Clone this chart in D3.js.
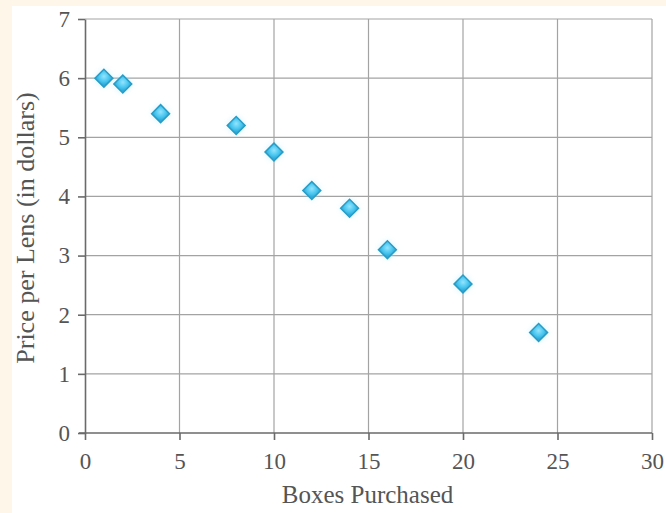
<!DOCTYPE html>
<html>
<head>
<meta charset="utf-8">
<script src="https://cdn.jsdelivr.net/npm/d3@7"></script>
<style>
  html, body { margin: 0; padding: 0; background: #fdf6e9; }
  svg { display: block; }
</style>
</head>
<body>
<svg id="chart" width="666" height="513"></svg>
<script>
// Price per lens by number of boxes purchased
const boxes  = [1, 2, 4, 8, 10, 12, 14, 16, 20, 24];
const prices = [6.0, 5.9, 5.4, 5.2, 4.75, 4.1, 3.8, 3.1, 2.52, 1.7];
const xTicks = [0, 5, 10, 15, 20, 25, 30];
const yTicks = [0, 1, 2, 3, 4, 5, 6, 7];

const W = 666, H = 513;
const margin = { left: 85, right: 14, top: 19, bottom: 80 };
const serif = "'Liberation Serif', 'DejaVu Serif', serif";

const svg = d3.select("#chart");

// white panel over the cream page
svg.append("rect")
  .attr("x", 12).attr("y", 6)
  .attr("width", W - 12).attr("height", H - 6)
  .attr("fill", "#ffffff");

const x = d3.scaleLinear().domain([0, 30]).range([margin.left, W - margin.right]);
const y = d3.scaleLinear().domain([0, 7]).range([H - margin.bottom, margin.top]);

const defs = svg.append("defs");
const grad = defs.append("radialGradient").attr("id", "gem")
  .attr("cx", "40%").attr("cy", "40%").attr("r", "65%");
grad.append("stop").attr("offset", "0%").attr("stop-color", "#95e4fc");
grad.append("stop").attr("offset", "60%").attr("stop-color", "#4cc8f1");
grad.append("stop").attr("offset", "100%").attr("stop-color", "#2eaadb");
defs.append("filter").attr("id", "glow")
  .attr("x", "-100%").attr("y", "-100%").attr("width", "300%").attr("height", "300%")
  .append("feGaussianBlur").attr("stdDeviation", 3);

// grid
const grid = svg.append("g");
grid.selectAll("line.v").data(xTicks.slice(1)).join("line")
  .attr("x1", d => x(d)).attr("x2", d => x(d))
  .attr("y1", y(0)).attr("y2", y(7))
  .attr("stroke", "#a3a3a3").attr("stroke-width", 1.2);
grid.selectAll("line.h").data(yTicks.slice(1)).join("line")
  .attr("x1", x(0)).attr("x2", x(30))
  .attr("y1", d => y(d)).attr("y2", d => y(d))
  .attr("stroke", "#a3a3a3").attr("stroke-width", 1.2);

// axes
const xAxis = svg.append("g")
  .attr("transform", `translate(0,${y(0)})`)
  .call(d3.axisBottom(x).tickValues(xTicks).tickFormat(d3.format("d"))
    .tickSize(7).tickSizeOuter(0).tickPadding(13));
const yAxis = svg.append("g")
  .attr("transform", `translate(${x(0)},0)`)
  .call(d3.axisLeft(y).tickValues(yTicks).tickFormat(d3.format("d"))
    .tickSize(7).tickSizeOuter(0).tickPadding(8));

[xAxis, yAxis].forEach(g => {
  g.select(".domain").attr("stroke", "#6a6a6a").attr("stroke-width", 1.6);
  g.selectAll(".tick line").attr("stroke", "#6a6a6a").attr("stroke-width", 1.6);
  g.selectAll(".tick text")
    .attr("fill", "#555")
    .style("font-family", serif)
    .style("font-size", "23px");
});
// x-axis line extends a little left of the y-axis
xAxis.select(".domain").attr("d", `M${x(0) - 6},0H${x(30)}`);

// axis titles
svg.append("text")
  .attr("x", x(15) - 1).attr("y", 503)
  .attr("text-anchor", "middle")
  .attr("fill", "#555")
  .style("font-family", serif)
  .style("font-size", "25px")
  .text("Boxes Purchased");
svg.append("text")
  .attr("transform", `translate(34,${y(3.5) + 2}) rotate(-90)`)
  .attr("text-anchor", "middle")
  .attr("fill", "#555")
  .style("font-family", serif)
  .style("font-size", "26px")
  .text("Price per Lens (in dollars)");

// markers
const pts = boxes.map((b, i) => ({ b, p: prices[i] }));
const diamond = d3.symbol().type(d3.symbolSquare).size(160);
const marks = svg.append("g");
marks.selectAll("path.halo").data(pts).join("path")
  .attr("class", "halo")
  .attr("d", diamond)
  .attr("transform", d => `translate(${x(d.b)},${y(d.p)}) rotate(45)`)
  .attr("fill", "#9fe6ff").attr("opacity", 0.6)
  .attr("filter", "url(#glow)");
marks.selectAll("path.pt").data(pts).join("path")
  .attr("class", "pt")
  .attr("d", diamond)
  .attr("transform", d => `translate(${x(d.b)},${y(d.p)}) rotate(45)`)
  .attr("fill", "url(#gem)")
  .attr("stroke", "#2a9cc4").attr("stroke-width", 1.5);
</script>
</body>
</html>
